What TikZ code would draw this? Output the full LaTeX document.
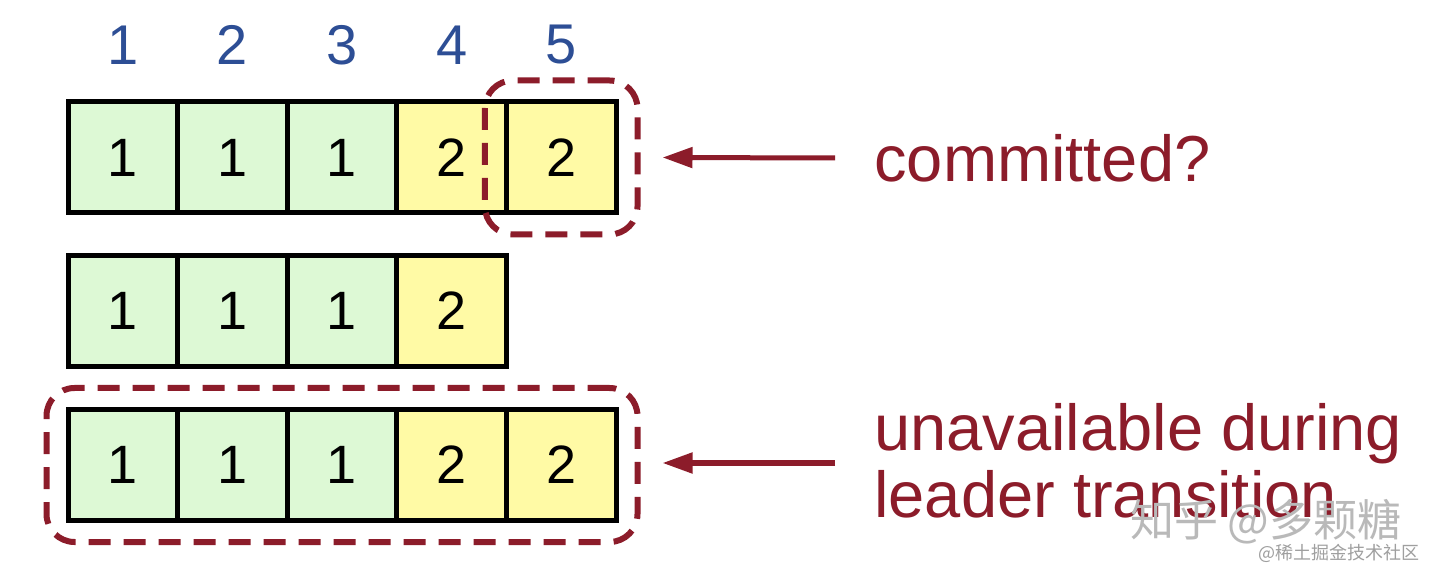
\documentclass[tikz,border=0pt]{standalone}
\usepackage{fontspec}
\setmainfont{Liberation Sans}
\newfontfamily\cjk{Noto Sans CJK SC}
\usetikzlibrary{arrows.meta,fit}
\definecolor{cellgreen}{HTML}{DDF9D5}
\definecolor{cellyellow}{HTML}{FFFAA5}
\definecolor{idxblue}{HTML}{2D4E95}
\definecolor{darkred}{HTML}{8C1C2A}
\begin{document}
\begin{tikzpicture}[x=0.5pt,y=-0.5pt,
  cell/.style={draw=black, line width=2.5pt, minimum width=54.8pt, minimum height=55.5pt, inner sep=0pt, font=\fontsize{27}{27}\selectfont},
  oldterm/.style={cell, fill=cellgreen},
  newterm/.style={cell, fill=cellyellow},
  idx/.style={text=idxblue, font=\fontsize{28}{28}\selectfont, inner sep=0pt},
  hilite/.style={draw=darkred, line width=3pt, dash pattern=on 11pt off 6.5pt, rounded corners=14pt, inner sep=9.5pt},
  pointer/.style={draw=darkred, line width=2.5pt, -{Triangle[length=15pt,width=10pt]}},
  note/.style={text=darkred, font=\fontsize{32.5}{33.5}\selectfont, inner sep=0pt, align=left},
  wmark/.style={inner sep=0pt}
]
\useasboundingbox (0,0) rectangle (1440,582);
\fill[white] (0,0) rectangle (1440,582);

% log indices
\node[idx] (i1) at (122.8,45) {1};
\node[idx] (i2) at (232.4,45) {2};
\node[idx] (i3) at (342.0,45) {3};
\node[idx] (i4) at (451.6,45) {4};
\node[idx] (i5) at (561.2,45) {5};

% row 1
\node[oldterm] (r1c1) at (122.8,157.5) {1};
\node[oldterm] (r1c2) at (232.4,157.5) {1};
\node[oldterm] (r1c3) at (342.0,157.5) {1};
\node[newterm] (r1c4) at (451.6,157.5) {2};
\node[newterm] (r1c5) at (561.2,157.5) {2};

% row 2
\node[oldterm] (r2c1) at (122.8,311) {1};
\node[oldterm] (r2c2) at (232.4,311) {1};
\node[oldterm] (r2c3) at (342.0,311) {1};
\node[newterm] (r2c4) at (451.6,311) {2};

% row 3
\node[oldterm] (r3c1) at (122.8,465) {1};
\node[oldterm] (r3c2) at (232.4,465) {1};
\node[oldterm] (r3c3) at (342.0,465) {1};
\node[newterm] (r3c4) at (451.6,465) {2};
\node[newterm] (r3c5) at (561.2,465) {2};

% dashed highlights
\node[hilite, fit=(r1c5)] (box1) {};
\node[hilite, fit=(r3c1)(r3c5)] (box3) {};

% notes
\node[note, anchor=west] (n1) at (874,158) {committed?};
\node[note, anchor=west] (n3) at (874,461) {unavailable during\\leader transition};

% arrows
\coordinate (s1) at (835,158);
\coordinate (s3) at (835,463);
\draw[pointer] (s1) -- ([xshift=11pt]box1.east);
\draw[pointer] (s3) -- ([xshift=11pt,yshift=1pt]box3.east);

% watermark
\node[wmark, text=gray!55, font=\cjk\fontsize{22}{22}\selectfont, anchor=east] (wm1) at (1402,522) {知乎 @多颗糖};
\node[wmark, text=gray!75, font=\cjk\fontsize{9}{9}\selectfont, anchor=east] (wm2) at (1420,553) {@稀土掘金技术社区};
\end{tikzpicture}
\end{document}
